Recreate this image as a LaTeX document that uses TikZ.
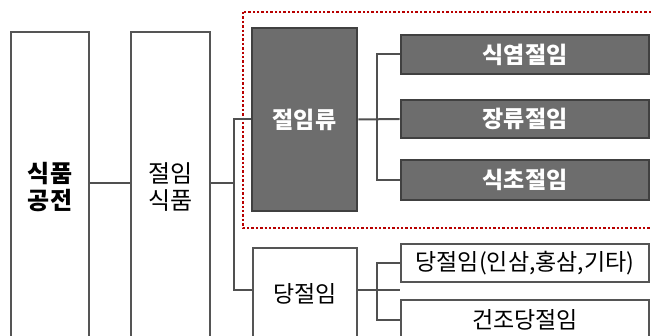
\documentclass[tikz,border=0pt]{standalone}
\usepackage{fontspec}
\setmainfont{Noto Sans CJK KR}
\definecolor{darkfill}{HTML}{6D6D6D}
\definecolor{darkline}{HTML}{404040}
\definecolor{boxline}{HTML}{555555}
\definecolor{conn}{HTML}{505050}
\definecolor{dotred}{HTML}{B80000}
\tikzset{
  whitebox/.style={draw=boxline, line width=2.8pt, fill=white, inner sep=0pt, align=center, font=\fontsize{23}{28}\selectfont},
  darkbox/.style={draw=darkline, line width=2.8pt, fill=darkfill, text=white, inner sep=0pt, align=center, font=\fontsize{23}{28}\selectfont\bfseries},
  link/.style={draw=conn, line width=2pt},
  dotframe/.style={draw=dotred, line width=2.6pt, dash pattern=on 2.4pt off 2pt}
}
\begin{document}
\begin{tikzpicture}[x=1pt,y=-1pt]
\useasboundingbox (0,0) rectangle (651,336);
\clip (0,0) rectangle (651,336);
\fill[white] (0,0) rectangle (651,336);
% dotted frame
\draw[dotframe] (243,12) rectangle (660,228);
% nodes
\node[whitebox, minimum width=78pt, minimum height=310pt, font=\fontsize{24}{27}\selectfont\bfseries] (A) at (50,187) {식품\\공전};
\node[whitebox, minimum width=79pt, minimum height=310pt, font=\fontsize{24}{27}\selectfont] (B) at (170.5,187) {절임\\식품};
\node[darkbox, minimum width=105pt, minimum height=183pt] (C) at (304.5,119.5) {절임류};
\node[whitebox, minimum width=104pt, minimum height=92pt] (D) at (305,294) {당절임};
\node[darkbox, minimum width=248pt, minimum height=39pt] (E) at (525,54.5) {식염절임};
\node[darkbox, minimum width=248pt, minimum height=38pt] (F) at (525,119) {장류절임};
\node[darkbox, minimum width=248pt, minimum height=40pt] (G) at (525,180) {식초절임};
\node[whitebox, minimum width=248pt, minimum height=38pt] (H) at (525,263) {당절임(인삼,홍삼,기타)};
\node[whitebox, minimum width=248pt, minimum height=40pt] (I) at (525,320) {건조당절임};
% connectors
\draw[link] ([yshift=4pt]A.east) -- ([yshift=4pt]B.west);
\draw[link] ([yshift=4pt]B.east) -- ++(23,0) coordinate (bus);
\draw[link] (C.west) -| (bus) |- ([yshift=4pt]D.west);
\draw[link] (C.east) -- (F.west);
\draw[link] (E.west) -- ++(-23,0) |- (G.west);
\draw[link] (H.west) -- ++(-23,0) |- (I.west);
\draw[link] ([yshift=4pt]D.east) -- ([yshift=4pt]D.east -| H.west) ;
\end{tikzpicture}
\end{document}
